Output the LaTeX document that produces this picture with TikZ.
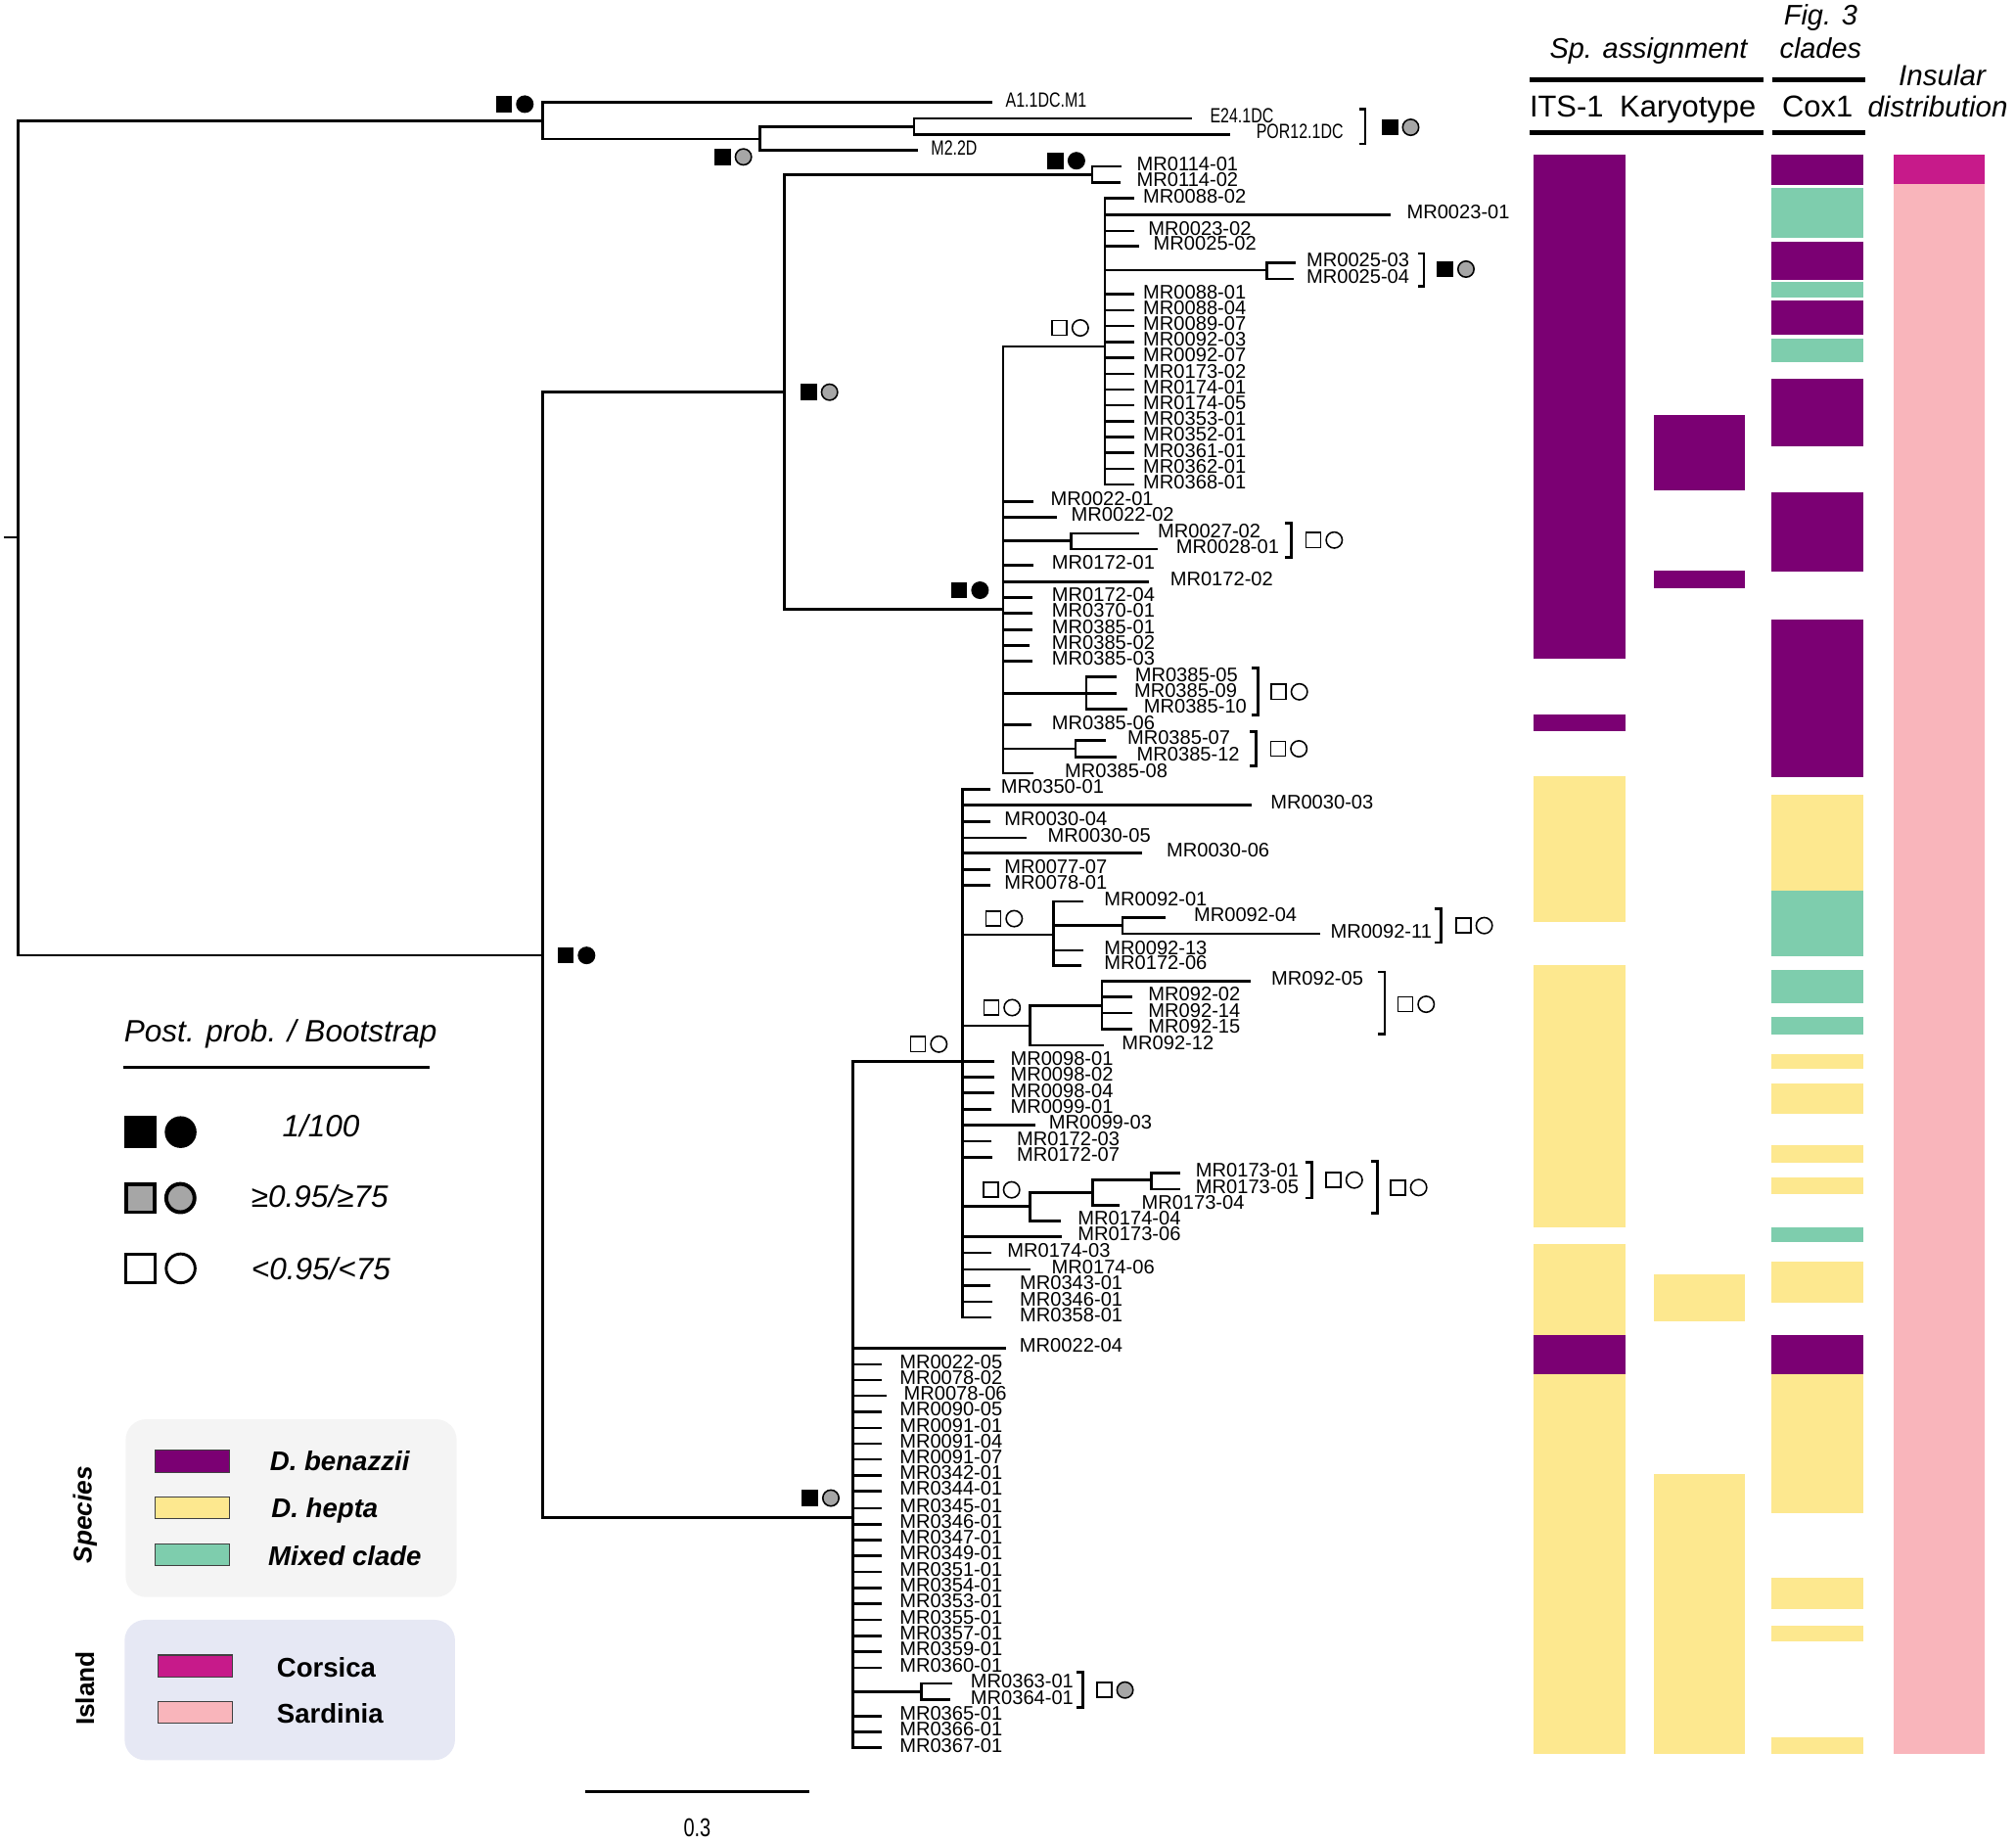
\documentclass[tikz,border=0pt]{standalone}
\usepackage{fontspec}
\setmainfont{Liberation Sans}
\newfontfamily\narrowfont{Liberation Sans}[FakeStretch=0.76]
\usetikzlibrary{positioning}

\definecolor{benazzii}{HTML}{7B0073}
\definecolor{hepta}{HTML}{FDE88F}
\definecolor{mixed}{HTML}{7ECDAD}
\definecolor{corsica}{HTML}{C71A8A}
\definecolor{sardinia}{HTML}{F9B5BB}
\definecolor{supgray}{HTML}{A6A6A6}
\definecolor{spbox}{HTML}{F4F4F4}
\definecolor{islbox}{HTML}{E6E8F4}

\tikzset{
  branch/.style={line width=1.9pt},
  leaf/.style={anchor=west, inner sep=0pt, yshift=2pt, font=\fontsize{15.3}{15.3}\selectfont},
  outleaf/.style={anchor=west, inner sep=0pt, yshift=2pt, font=\narrowfont\fontsize{16}{16}\selectfont},
  sym/.style={draw, line width=1.2pt, inner sep=0pt, minimum size=11.5pt},
  bigsym/.style={draw, line width=2.2pt, inner sep=0pt, minimum size=22.5pt},
  brk/.style={line width=1.9pt},
  rule/.style={line width=3.8pt},
  hd/.style={inner sep=0pt, anchor=base west, font=\fontsize{23.5}{23.5}\selectfont},
  hdit/.style={inner sep=0pt, anchor=base west, font=\itshape\fontsize{22}{22}\selectfont},
  lgit/.style={inner sep=0pt, anchor=base west, font=\itshape\fontsize{24}{24}\selectfont},
  swatch/.style={draw=black!75, line width=0.8pt, inner sep=0pt, minimum width=58pt, minimum height=17pt},
  sptxt/.style={inner sep=0pt, anchor=base west, font=\bfseries\itshape\fontsize{21}{21}\selectfont},
  istxt/.style={inner sep=0pt, anchor=base west, font=\bfseries\fontsize{21}{21}\selectfont}
}

% support symbols: square (post. prob.) and circle (bootstrap)
\newcommand{\pp}[4]{%
  \node[sym, rectangle, fill=#3] (#1s) at (#2) {};
  \node[sym, circle, minimum size=12.5pt, fill=#4, right=3pt of #1s] (#1c) {};}
% bracket round a group of tips
\newcommand{\brk}[3]{\draw[brk] (#1-5,#2) -- (#1,#2) -- (#1,#3) -- (#1-5,#3);}

\begin{document}
\begin{tikzpicture}[x=1pt, y=-1pt]
\useasboundingbox (0,0) rectangle (1568,1433);

% ---------- outgroup ----------
\coordinate (stem) at (3,418);
\coordinate (root) at (14,418);
\coordinate (nO) at (422,94);
\coordinate (nO2) at (591,108);
\coordinate (nO3) at (711,98.5);
\coordinate (tA1) at (772,79.5);
\coordinate (tE24) at (927,92);
\coordinate (tPOR) at (957,104.5);
\coordinate (tM2) at (714,117);
\draw[branch] (stem) -- (root);
\draw[branch] (root) |- (nO);
\draw[branch] (nO) |- (tA1);
\draw[branch] (nO) |- (nO2);
\draw[branch] (nO2) |- (nO3);
\draw[branch] (nO2) |- (tM2);
\draw[branch] (nO3) |- (tE24);
\draw[branch] (nO3) |- (tPOR);
\node[outleaf] (lA1) at (782,79.5) {A1.1DC.M1};
\node[outleaf] (lE24) at (941,92) {E24.1DC};
\node[outleaf] (lPOR) at (977,104.5) {POR12.1DC};
\node[outleaf] (lM2) at (724,117) {M2.2D};
\pp{sO}{392,81}{black}{black}
\pp{sO2}{562,122}{black}{supgray}
\brk{1062}{85}{112}
\pp{sO3}{1081,99}{black}{supgray}

% ---------- ingroup ----------
\coordinate (nI) at (422,743);
\coordinate (nU) at (610,305);
\coordinate (nL) at (663.5,1180);
\coordinate (n114) at (849.5,136);
\coordinate (nB) at (780,473.7);
\coordinate (nC) at (859.5,269.5);
\coordinate (n25) at (985.4,210);
\coordinate (n27) at (833,420.7);
\coordinate (n385a) at (845,539.2);
\coordinate (n385b) at (836.7,582.3);
\draw[branch] (root) |- (nI);
\draw[branch] (nI) |- (nU);
\draw[branch] (nI) |- (nL);
\draw[branch] (nU) |- (n114);
\draw[branch] (nU) |- (nB);
\draw[branch] (nB) |- (nC);
\draw[branch] (nC) |- (n25);
\draw[branch] (nB) |- (n27);
\draw[branch] (nB) |- (n385a);
\draw[branch] (nB) |- (n385b);
\pp{sI}{440,743}{black}{black}
\pp{sU}{629,305}{black}{supgray}
\pp{s114}{821,125}{black}{black}
\pp{sB}{746,459}{black}{black}
\pp{sC}{824,255}{white}{white}

\foreach \y/\e/\lx/\lab in {129.4/872.6/884/MR0114-01, 142.1/871.3/884/MR0114-02}
  {\coordinate (a\lab) at (\e,\y); \draw[branch] (n114) |- (a\lab); \node[leaf] (la\lab) at (\lx,\y) {\lab};}

\foreach \y/\e/\lx/\lab in {154.3/882/889/MR0088-02, 167/1081.6/1094/MR0023-01,
    179.6/882/893/MR0023-02, 191.5/886/897/MR0025-02, 228.9/882/889/MR0088-01,
    241.2/882/889/MR0088-04, 253.6/882/889/MR0089-07, 265.9/882/889/MR0092-03,
    278.2/882/889/MR0092-07, 290.6/882/889/MR0173-02, 302.9/882/889/MR0174-01,
    315.2/882/889/MR0174-05, 327.5/882/889/MR0353-01, 339.9/882/889/MR0352-01,
    352.2/882/889/MR0361-01, 364.5/882/889/MR0362-01, 376.8/882/889/MR0368-01}
  {\coordinate (c\lab) at (\e,\y); \draw[branch] (nC) |- (c\lab); \node[leaf] (lc\lab) at (\lx,\y) {\lab};}

\foreach \y/\e/\lx/\lab in {204.3/1008/1016/MR0025-03, 217/1006/1016/MR0025-04}
  {\coordinate (c\lab) at (\e,\y); \draw[branch] (n25) |- (c\lab); \node[leaf] (lc\lab) at (\lx,\y) {\lab};}
\brk{1107.6}{197}{222.5}
\pp{s25}{1124,209.3}{black}{supgray}

\foreach \y/\e/\lx/\lab in {390/803.4/817/MR0022-01, 402.1/822.4/833/MR0022-02,
    439.7/804/818/MR0172-01, 452.4/893.8/910/MR0172-02, 464.8/803/818/MR0172-04,
    477/803/818/MR0370-01, 489.7/803/818/MR0385-01, 501.8/801/818/MR0385-02,
    514.3/803/818/MR0385-03, 563.8/802/818/MR0385-06, 601.3/803.4/828/MR0385-08}
  {\coordinate (b\lab) at (\e,\y); \draw[branch] (nB) |- (b\lab); \node[leaf] (lb\lab) at (\lx,\y) {\lab};}

\foreach \y/\e/\lx/\lab in {414.8/885.7/900.3/MR0027-02, 427/900.3/914.7/MR0028-01}
  {\coordinate (b\lab) at (\e,\y); \draw[branch] (n27) |- (b\lab); \node[leaf] (lb\lab) at (\lx,\y) {\lab};}
\brk{1004.5}{406.7}{433.4}
\pp{s27}{1021.5,420}{white}{white}

\foreach \y/\e/\lx/\lab in {526.5/868.5/882.6/MR0385-05, 539.2/868.5/882/MR0385-09, 551.3/876.7/889.5/MR0385-10}
  {\coordinate (b\lab) at (\e,\y); \draw[branch] (n385a) |- (b\lab); \node[leaf] (lb\lab) at (\lx,\y) {\lab};}
\brk{978.6}{519.6}{556.2}
\pp{s385a}{994.4,538}{white}{white}

\foreach \y/\e/\lx/\lab in {575.9/860.4/876.7/MR0385-07, 588.6/868.5/884/MR0385-12}
  {\coordinate (b\lab) at (\e,\y); \draw[branch] (n385b) |- (b\lab); \node[leaf] (lb\lab) at (\lx,\y) {\lab};}
\brk{977}{568.8}{595.7}
\pp{s385b}{994,582.3}{white}{white}

% ---------- lower clade ----------
\coordinate (nD) at (748.7,825.5);
\coordinate (nE) at (819.2,727);
\coordinate (nF) at (873,719.8);
\coordinate (nG) at (801,797.5);
\coordinate (nH) at (857.2,782);
\coordinate (nJ) at (801.2,938.2);
\coordinate (nK) at (849.9,927.3);
\coordinate (nM) at (895.6,917.7);
\coordinate (nN) at (716.8,1315.5);
\draw[branch] (nL) |- (nD);
\draw[branch] (nD) |- (nE);
\draw[branch] (nE) |- (nF);
\draw[branch] (nD) |- (nG);
\draw[branch] (nG) |- (nH);
\draw[branch] (nD) |- (nJ);
\draw[branch] (nJ) |- (nK);
\draw[branch] (nK) |- (nM);
\draw[branch] (nL) |- (nN);
\pp{sL}{630,1165}{black}{supgray}
\pp{sD}{714,812}{white}{white}
\pp{sE}{772.6,714.4}{white}{white}
\pp{sG}{771,783.6}{white}{white}
\pp{sJ}{770.6,925.3}{white}{white}

\foreach \y/\e/\lx/\lab in {614/770/778.4/MR0350-01, 626/973.6/988/MR0030-03,
    638.9/770/781/MR0030-04, 651.6/798.8/814.8/MR0030-05, 663.5/888.6/907.2/MR0030-06,
    676.2/770/781/MR0077-07, 688.4/770/781/MR0078-01, 825.3/773.2/785.7/MR0098-01,
    837.8/773.2/785.7/MR0098-02, 850/773.2/785.7/MR0098-04, 862.6/771/785.7/MR0099-01,
    874.8/805.2/815.7/MR0099-03, 887.5/771.2/790.7/MR0172-03, 899.9/772/790.7/MR0172-07,
    961.6/825.6/838.2/MR0173-06, 974.3/771.2/783.4/MR0174-03, 987.4/801.2/817.8/MR0174-06,
    999.6/770.3/793/MR0343-01, 1012.3/772/793/MR0346-01, 1024.5/771/793/MR0358-01}
  {\coordinate (d\lab) at (\e,\y); \draw[branch] (nD) |- (d\lab); \node[leaf] (ld\lab) at (\lx,\y) {\lab};}

\foreach \y/\e/\lx/\lab in {701.1/842.7/858.7/MR0092-01, 738.9/842.7/858.7/MR0092-13, 751/841/858.7/MR0172-06}
  {\coordinate (d\lab) at (\e,\y); \draw[branch] (nE) |- (d\lab); \node[leaf] (ld\lab) at (\lx,\y) {\lab};}
\foreach \y/\e/\lx/\lab in {713.5/906.6/928.5/MR0092-04, 726.2/1026.5/1034.6/MR0092-11}
  {\coordinate (d\lab) at (\e,\y); \draw[branch] (nF) |- (d\lab); \node[leaf] (ld\lab) at (\lx,\y) {\lab};}
\brk{1120.7}{706.6}{732.8}
\pp{sF}{1138.2,719.8}{white}{white}

\foreach \y/\e/\lx/\lab in {813.1/858.6/872.4/MR092-12}
  {\coordinate (d\lab) at (\e,\y); \draw[branch] (nG) |- (d\lab); \node[leaf] (ld\lab) at (\lx,\y) {\lab};}
\foreach \y/\e/\lx/\lab in {763.2/972.7/988.7/MR092-05, 775.3/880.4/893/MR092-02,
    787.8/880.4/893/MR092-14, 800.5/881/893/MR092-15}
  {\coordinate (d\lab) at (\e,\y); \draw[branch] (nH) |- (d\lab); \node[leaf] (ld\lab) at (\lx,\y) {\lab};}
\brk{1077}{756}{804.2}
\pp{sH}{1093,781}{white}{white}

\foreach \y/\e/\lx/\lab in {949.6/825/838.2/MR0174-04}
  {\coordinate (d\lab) at (\e,\y); \draw[branch] (nJ) |- (d\lab); \node[leaf] (ld\lab) at (\lx,\y) {\lab};}
\foreach \y/\e/\lx/\lab in {937.5/870.8/887.7/MR0173-04}
  {\coordinate (d\lab) at (\e,\y); \draw[branch] (nK) |- (d\lab); \node[leaf] (ld\lab) at (\lx,\y) {\lab};}
\foreach \y/\e/\lx/\lab in {912.1/918.3/929.9/MR0173-01, 924.8/918.3/929.9/MR0173-05}
  {\coordinate (d\lab) at (\e,\y); \draw[branch] (nM) |- (d\lab); \node[leaf] (ld\lab) at (\lx,\y) {\lab};}
\brk{1020.2}{903.7}{931.6}
\pp{sM}{1037.1,917.7}{white}{white}
\brk{1071.2}{903.2}{943.3}
\pp{sK}{1087.2,923.5}{white}{white}

\foreach \y/\e/\lx/\lab in {1048.4/782.7/792.9/MR0022-04, 1061.1/685.6/699.5/MR0022-05,
    1073.3/685.6/699.5/MR0078-02, 1085.4/689.6/702.8/MR0078-06, 1097.9/686/699.5/MR0090-05,
    1110.5/686/699.5/MR0091-01, 1122.7/686/699.5/MR0091-04, 1134.9/686/699.5/MR0091-07,
    1147.3/686/699.5/MR0342-01, 1159.5/686/699.5/MR0344-01, 1173/686/699.5/MR0345-01,
    1185.4/686/699.5/MR0346-01, 1197.6/686/699.5/MR0347-01, 1209.7/686/699.5/MR0349-01,
    1222.4/686/699.5/MR0351-01, 1234.9/686/699.5/MR0354-01, 1247/686/699.5/MR0353-01,
    1259.7/686/699.5/MR0355-01, 1272.4/686/699.5/MR0357-01, 1284.6/686/699.5/MR0359-01,
    1297/686/699.5/MR0360-01, 1334.6/686/699.5/MR0365-01, 1346.7/686/699.5/MR0366-01,
    1359.2/686/699.5/MR0367-01}
  {\coordinate (e\lab) at (\e,\y); \draw[branch] (nL) |- (e\lab); \node[leaf] (le\lab) at (\lx,\y) {\lab};}
\foreach \y/\e/\lx/\lab in {1309.2/740.9/754.8/MR0363-01, 1321.9/738.8/754.8/MR0364-01}
  {\coordinate (e\lab) at (\e,\y); \draw[branch] (nN) |- (e\lab); \node[leaf] (le\lab) at (\lx,\y) {\lab};}
\brk{842.3}{1300.3}{1327.7}
\pp{sN}{858.8,1314.3}{white}{supgray}

% scale bar
\coordinate (sb1) at (455.4,1393.4);
\coordinate (sb2) at (629.7,1393.4);
\draw[line width=2pt] (sb1) -- (sb2);
\node[inner sep=0pt, anchor=base, font=\narrowfont\fontsize{20}{20}\selectfont] (sbl) at (542.3,1428.5) {0.3};

% ---------- support legend ----------
\node[lgit] (ppT) at (96.4,810.6) {Post. prob. / Bootstrap};
\draw[line width=2.6pt] (95.9,830.2) -- (334.4,830.2);
\node[bigsym, rectangle, fill=black] (lg1s) at (109.3,880.4) {};
\node[bigsym, circle, fill=black, right=6.5pt of lg1s] (lg1c) {};
\node[bigsym, rectangle, fill=supgray, line width=3pt, minimum size=22pt] (lg2s) at (109.3,931.7) {};
\node[bigsym, circle, fill=supgray, line width=3pt, minimum size=22pt, right=6pt of lg2s] (lg2c) {};
\node[bigsym, rectangle, fill=white] (lg3s) at (109.3,986.4) {};
\node[bigsym, circle, fill=white, right=6.5pt of lg3s] (lg3c) {};
\node[lgit] (lg1t) at (219.4,884.2) {1/100};
\node[lgit] (lg2t) at (195.3,938.8) {≥0.95/≥75};
\node[lgit] (lg3t) at (195.3,995.5) {<0.95/<75};

% ---------- species / island legend ----------
\fill[spbox, rounded corners=16pt] (97.7,1103.7) rectangle (355.2,1242);
\fill[islbox, rounded corners=16pt] (96.9,1259.7) rectangle (353.9,1368.8);
\node[rotate=90, inner sep=0pt, font=\bfseries\itshape\fontsize{20}{20}\selectfont] (spL) at (66,1178) {Species};
\node[rotate=90, inner sep=0pt, font=\bfseries\fontsize{20}{20}\selectfont] (isL) at (66,1313) {Island};
\node[swatch, fill=benazzii] (swB) at (149.6,1136.3) {};
\node[swatch, fill=hepta] (swH) at (149.6,1172.4) {};
\node[swatch, fill=mixed] (swM) at (149.6,1209.2) {};
\node[swatch, fill=corsica] (swC) at (152,1295.6) {};
\node[swatch, fill=sardinia] (swS) at (152,1331.7) {};
\node[sptxt] (txB) at (209.8,1144) {D. benazzii};
\node[sptxt] (txH) at (211,1180) {D. hepta};
\node[sptxt] (txM) at (208.5,1217.4) {Mixed clade};
\node[istxt] (txC) at (215.1,1304) {Corsica};
\node[istxt] (txS) at (215.1,1340.2) {Sardinia};

% ---------- column headers ----------
\node[hdit] (hSp) at (1205.2,45.5) {Sp. assignment};
\node[hdit] (hFig) at (1387.3,19.5) {Fig. 3};
\node[hdit] (hCl) at (1384,45.5) {clades};
\node[hdit, font=\itshape\fontsize{22.5}{22.5}\selectfont] (hIns) at (1476.6,66.5) {Insular};
\node[hdit, font=\itshape\fontsize{22.5}{22.5}\selectfont] (hDis) at (1452.5,91) {distribution};
\node[hd] (hITS) at (1189.5,91) {ITS-1};
\node[hd] (hKar) at (1259.7,91) {Karyotype};
\node[hd] (hCox) at (1386,91) {Cox1};
\draw[rule] (1190,62.2) -- (1371.4,62.2);
\draw[rule] (1378.2,62.2) -- (1450.8,62.2);
\draw[rule] (1190,103.5) -- (1371.4,103.5);
\draw[rule] (1378.2,103.5) -- (1450.8,103.5);

% ---------- columns ----------
\foreach \a/\b/\c in {120.4/512.4/benazzii, 555.6/568.7/benazzii, 603.7/717/hepta,
    750.4/954.2/hepta, 967.2/1038/hepta, 1038/1069/benazzii, 1069/1364/hepta}
  \fill[\c] (1193,\a) rectangle (1264,\b);
\foreach \a/\b/\c in {322.5/381.2/benazzii, 444/457.8/benazzii, 990.8/1027.5/hepta, 1146.5/1364/hepta}
  \fill[\c] (1286,\a) rectangle (1357,\b);
\foreach \a/\b/\c in {120.4/144/benazzii, 146.5/184.8/mixed, 188/217.4/benazzii,
    219/231.3/mixed, 233.7/260.6/benazzii, 263/281.8/mixed, 294.8/347/benazzii,
    382.9/444.8/benazzii, 481.5/604.5/benazzii, 618.4/692.6/hepta, 692.6/743.9/mixed,
    754.5/779.8/mixed, 791.2/804.2/mixed, 819.7/831.1/hepta, 842.5/866.1/hepta,
    890.6/904.5/hepta, 915.9/928.9/hepta, 954.2/965.6/mixed, 981/1012.8/hepta,
    1038/1069/benazzii, 1069/1176.6/hepta, 1227.2/1251.6/hepta, 1263.9/1276.1/hepta,
    1351/1364/hepta}
  \fill[\c] (1378,\a) rectangle (1449.5,\b);
\fill[corsica] (1473,120.4) rectangle (1544,143.2);
\fill[sardinia] (1473,143.2) rectangle (1544,1364);

\end{tikzpicture}
\end{document}
